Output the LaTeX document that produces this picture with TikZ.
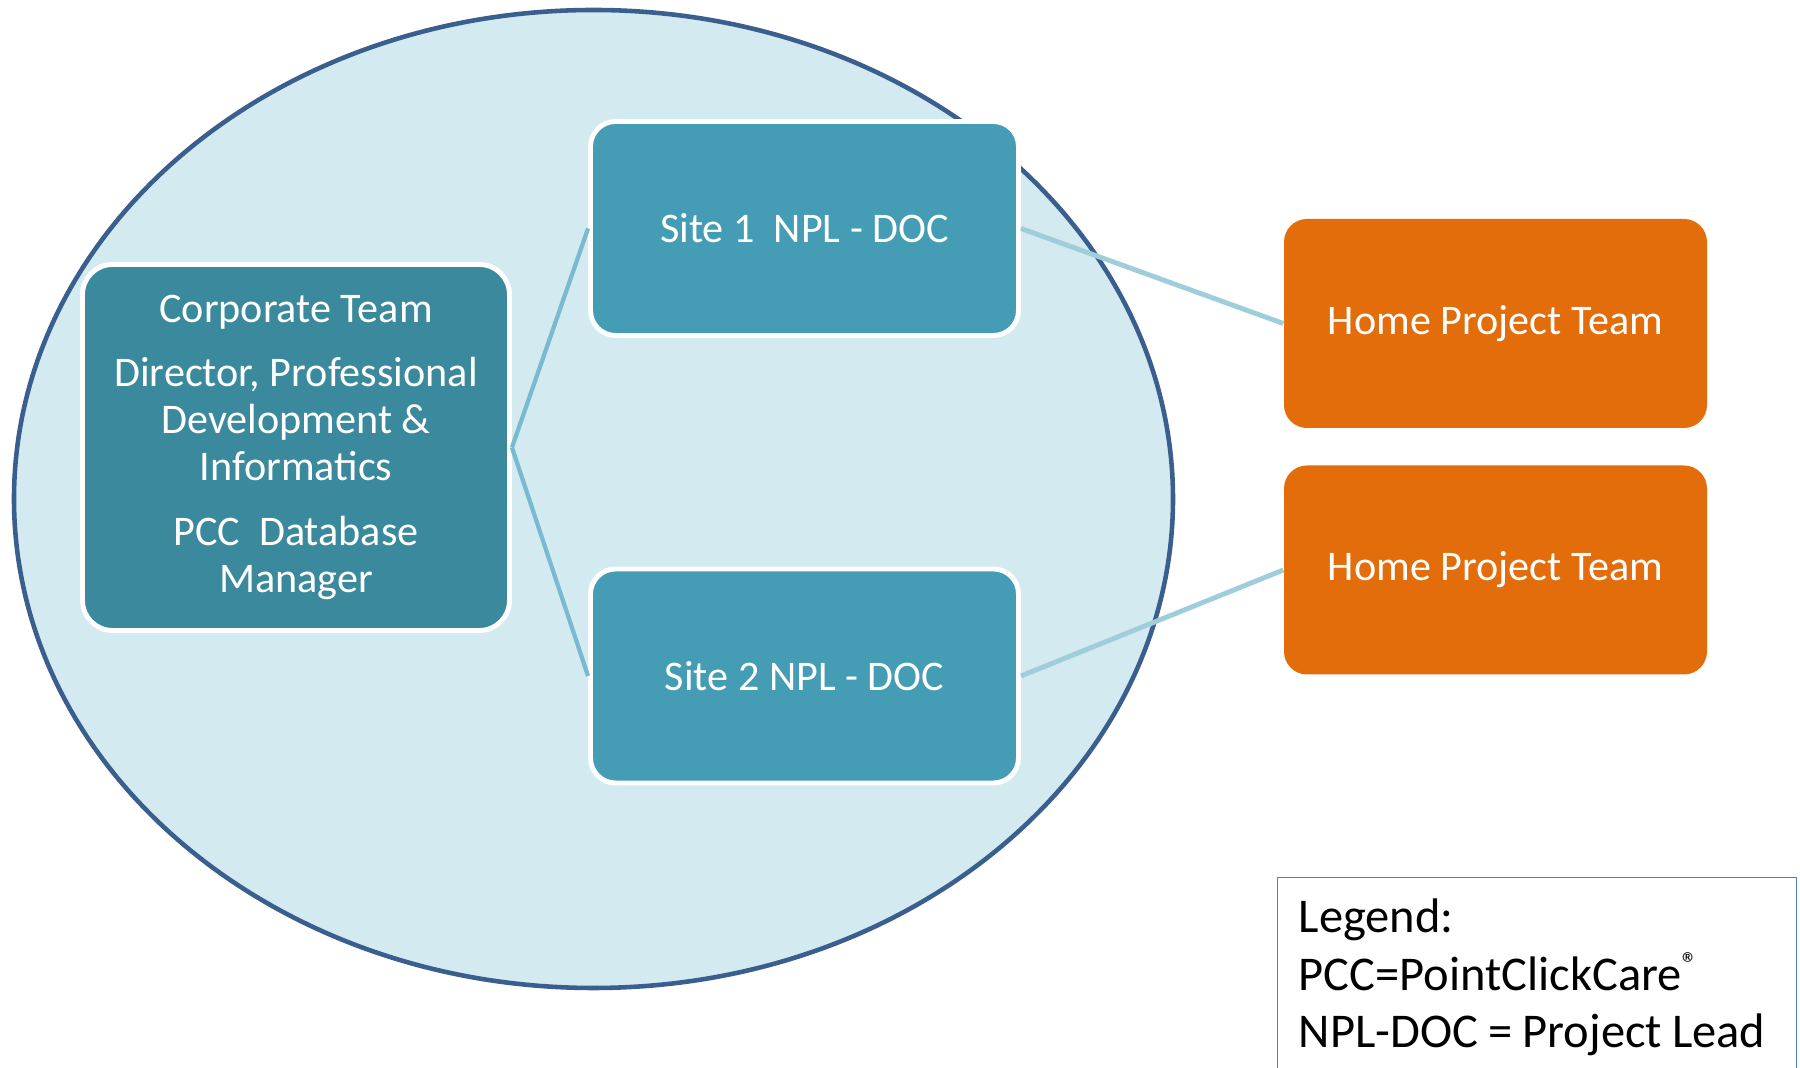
\documentclass[tikz,border=0pt]{standalone}
\usepackage{fontspec}
\setmainfont{Carlito}

\definecolor{ringfill}{HTML}{D2EAF0}
\definecolor{ringline}{HTML}{3A5E8E}
\definecolor{corpfill}{HTML}{3B899D}
\definecolor{sitefill}{HTML}{449CB5}
\definecolor{homefill}{HTML}{E36C0B}
\definecolor{innerlink}{HTML}{78BAD0}
\definecolor{outerlink}{HTML}{A0CDDC}
\definecolor{legendline}{HTML}{4F7DC9}

\newcommand{\legendfont}{\fontsize{13.8pt}{16.4pt}\selectfont}

\begin{document}
\begin{tikzpicture}[
    boxtext/.style={text=white, align=center, font=\fontsize{12pt}{13.4pt}\selectfont},
    corpbox/.style={boxtext, fill=corpfill, draw=white, line width=1.4pt,
      rounded corners=0.3cm, minimum width=4.27cm, minimum height=3.66cm},
    sitebox/.style={boxtext, fill=sitefill, draw=white, line width=1.4pt,
      rounded corners=0.25cm, minimum width=4.28cm, minimum height=2.14cm},
    homebox/.style={boxtext, fill=homefill, rounded corners=0.23cm,
      minimum width=4.23cm, minimum height=2.09cm},
    innerline/.style={innerlink, line width=1.2pt},
    outerline/.style={outerlink, line width=1.4pt},
    legendbox/.style={draw=legendline, line width=0.4pt, anchor=north west,
      align=left, text width=4.77cm, inner xsep=0.21cm, inner ysep=0.21cm,
      font=\legendfont}
  ]
  \useasboundingbox (0,0) rectangle (18,10.68);

  % big ellipse
  \draw[ringline, line width=1.3pt, fill=ringfill]
    (5.935,5.69) ellipse [x radius=5.795, y radius=4.89];

  % corporate team
  \node[corpbox] (corp) at (2.96,6.205)
    {Corporate Team\\[4.8pt]
     Director, Professional\\Development \&\\Informatics\\[5pt]
     PCC\ \ Database\\Manager};

  % sites
  \node[sitebox] (site1) at (8.045,8.395) {Site 1\ \ NPL - DOC};
  \node[sitebox] (site2) at (8.045,3.92) {Site 2 NPL - DOC};

  % home teams
  \node[homebox] (home1) at (14.955,7.445) {Home Project Team};
  \node[homebox] (home2) at (14.955,4.98) {Home Project Team};

  % connectors
  \foreach \s in {site1,site2}
    \draw[innerline] (corp.east) -- (\s.west);
  \foreach \s/\h in {site1/home1,site2/home2}
    \draw[outerline] (\s.east) -- (\h.west);

  % legend
  \node[legendbox] (legend) at (12.77,1.91)
    {Legend:\\PCC=PointClickCare\raisebox{0.32em}{\fontsize{9pt}{9pt}\selectfont\textregistered}\\\mbox{\spaceskip=0.21em NPL-DOC = Project Lead}};

\end{tikzpicture}
\end{document}
